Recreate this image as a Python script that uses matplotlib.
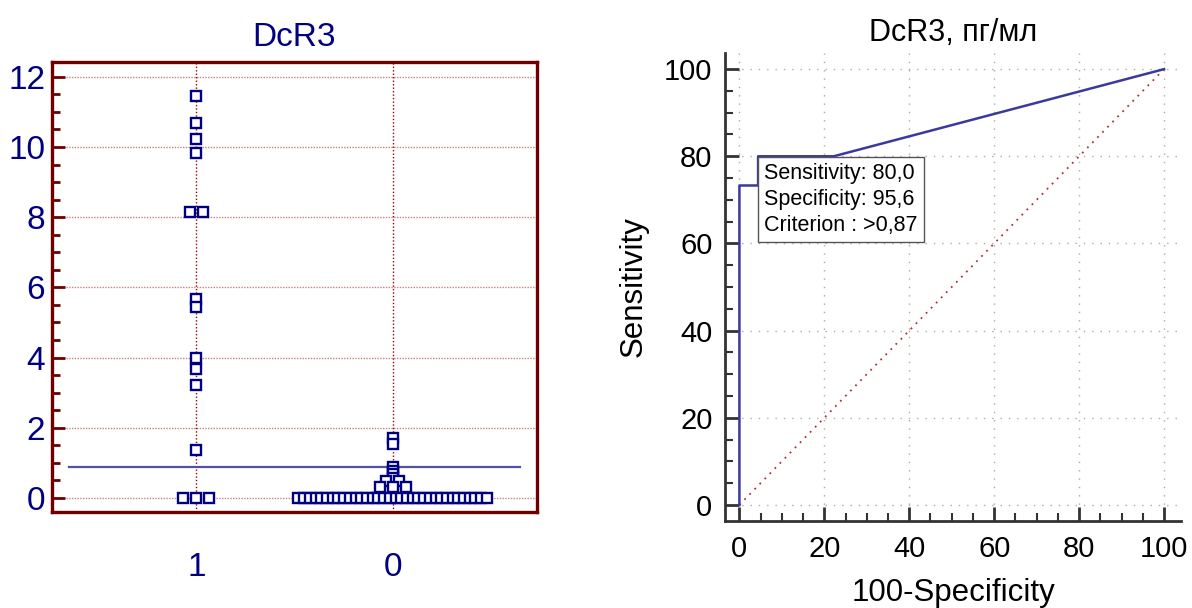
import numpy as np
import matplotlib
matplotlib.use('Agg')
import matplotlib.pyplot as plt
from matplotlib.ticker import MultipleLocator

plt.rcParams['font.family'] = ['Liberation Sans', 'DejaVu Sans']

# ---------------- data: dot plot ----------------
categories = ['1', '0']
group1_values = [11.45, 10.67, 10.22, 9.82, 8.14, 8.14, 5.66, 5.43,
                 3.99, 3.68, 3.21, 1.38, 0.0, 0.0, 0.0]
group0_values = [1.70, 1.55, 0.87, 0.78, 0.68, 0.58, 0.49, 0.49,
                 0.31, 0.31, 0.31,
                 0.0, 0.0, 0.0, 0.0, 0.0, 0.0, 0.0, 0.0, 0.0, 0.0,
                 0.0, 0.0, 0.0, 0.0, 0.0, 0.0, 0.0, 0.0, 0.0, 0.0,
                 0.0, 0.0, 0.0, 0.0, 0.0, 0.0, 0.0, 0.0, 0.0, 0.0,
                 0.0, 0.0, 0.0, 0.0]
criterion = 0.87
left_title = 'DcR3'
left_yticks = [0, 2, 4, 6, 8, 10, 12]

# ---------------- data: ROC ----------------
roc_fpr = [0.0, 0.0, 4.4, 4.4, 22.2, 100.0]
roc_sens = [0.0, 73.3, 73.3, 80.0, 80.0, 100.0]
crit_fpr = 4.4
crit_sens = 80.0
crit_spec = 95.6
crit_label = '>0,87'
right_title = 'DcR3, пг/мл'
roc_ticks = [0, 20, 40, 60, 80, 100]


def swarm_offsets(values, step=0.066, max_span=0.96):
    values = np.asarray(values)
    offs = np.zeros(len(values))
    for v in np.unique(values):
        idx = np.where(values == v)[0]
        n = len(idx)
        if n > 1:
            s = min(step, max_span / (n - 1))
            offs[idx] = (np.arange(n) - (n - 1) / 2) * s
    return offs


NAVY = '#000080'
DRED = '#6e0000'

fig = plt.figure(figsize=(11.92, 6.08), dpi=100)

# ---------------- left panel ----------------
ax1 = fig.add_axes([0.0436, 0.1579, 0.4069, 0.7406])
groups = [group1_values, group0_values]
for i, vals in enumerate(groups):
    offs = swarm_offsets(vals)
    ax1.plot(i + offs, vals, linestyle='none', marker='s', ms=6.6, mew=1.7,
             mec=NAVY, mfc='white', zorder=4, clip_on=False)
ax1.plot([-0.65, 1.65], [criterion, criterion], color='#5050a8', lw=1.6, zorder=3)

ax1.set_xlim(-0.735, 1.735)
ax1.set_ylim(-0.40, 12.43)
ax1.set_yticks(left_yticks)
ax1.yaxis.set_minor_locator(MultipleLocator(0.5))
ax1.set_xticks(range(len(categories)))
ax1.set_xticklabels(categories)
for sp in ax1.spines.values():
    sp.set_color(DRED)
    sp.set_linewidth(2.4)
ax1.tick_params(axis='y', which='major', direction='in', length=9, width=2,
                color=DRED, labelcolor=NAVY, labelsize=24, pad=5)
ax1.tick_params(axis='y', which='minor', direction='in', length=5.5, width=2,
                color=DRED)
ax1.tick_params(axis='x', which='both', length=0, labelcolor=NAVY,
                labelsize=24, pad=29)
for y in left_yticks:
    ax1.axhline(y, color='#c88080', lw=1, linestyle=(0, (1, 1)), zorder=1)
for i in range(len(categories)):
    ax1.axvline(i, color='#a00000', lw=1, linestyle=(0, (1, 1.5)), zorder=1)
ax1.set_title(left_title, color=NAVY, fontsize=24, pad=11)

# ---------------- right panel ----------------
ax2 = fig.add_axes([0.6082, 0.1431, 0.3826, 0.7697])
ax2.set_xlim(-3.4, 104)
ax2.set_ylim(-3.7, 103.7)
ax2.set_xticks(roc_ticks)
ax2.set_yticks(roc_ticks)
ax2.xaxis.set_minor_locator(MultipleLocator(5))
ax2.yaxis.set_minor_locator(MultipleLocator(5))
for s in ['top', 'right']:
    ax2.spines[s].set_visible(False)
for s in ['left', 'bottom']:
    ax2.spines[s].set_color('#333333')
    ax2.spines[s].set_linewidth(2.0)
ax2.tick_params(which='major', direction='in', length=10, width=2,
                color='#333333', labelsize=21, labelcolor='black')
ax2.tick_params(axis='y', which='major', pad=9)
ax2.tick_params(axis='x', which='major', pad=10)
ax2.tick_params(which='minor', direction='in', length=6, width=1.5,
                color='#333333')
ax2.grid(True, which='major', color='#aaaaaa', lw=1, linestyle=(0, (1, 5)))
ax2.set_axisbelow(True)

ax2.plot([0, 100], [0, 100], color='#b03030', lw=1.3, linestyle=(0, (1, 3)), zorder=2)
ax2.plot(roc_fpr, roc_sens, color='#3a3a9e', lw=1.8, zorder=3, clip_on=False)

txt = ('Sensitivity: ' + f'{crit_sens:.1f}'.replace('.', ',') + '\n'
       'Specificity: ' + f'{crit_spec:.1f}'.replace('.', ',') + '\n'
       'Criterion : ' + crit_label)
ax2.annotate(txt, xy=(crit_fpr, crit_sens), xytext=(4.5, -5.0),
             textcoords='offset points', ha='left', va='top', fontsize=15.5,
             linespacing=1.3, zorder=5,
             bbox=dict(boxstyle='square,pad=0.3', fc='white', ec='#555555', lw=1.0))

ax2.set_xlabel('100-Specificity', fontsize=22.5, labelpad=11)
ax2.set_ylabel('Sensitivity', fontsize=22.5, labelpad=11)
ax2.set_title(right_title, fontsize=22, pad=9)

fig.savefig('out.png', dpi=100)
